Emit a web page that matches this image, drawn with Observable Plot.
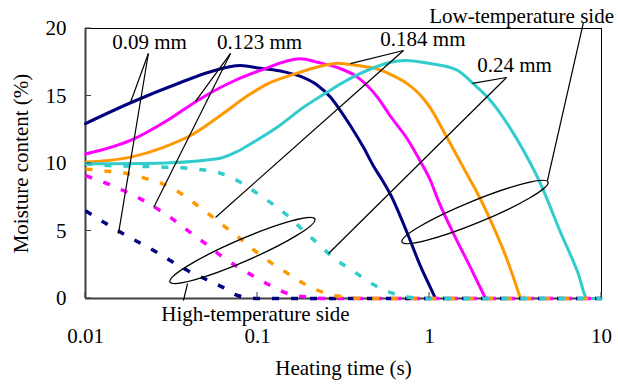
<!DOCTYPE html>
<html><head><meta charset="utf-8">
<script src="https://cdn.jsdelivr.net/npm/d3@7"></script>
<script src="https://cdn.jsdelivr.net/npm/@observablehq/plot@0.6"></script>
<style>body{margin:0;background:#fff}</style>
</head><body><div id="chart"></div>
<script>
// Series (particle sizes) and colours
const seriesNames = ["0.09 mm", "0.123 mm", "0.184 mm", "0.24 mm"];
const seriesColors = ["#000080", "#ff00ff", "#ff9900", "#33cccc"];

// Low-temperature side (solid lines): heating time (s) and moisture content (%)
const low009T = [0.01, 0.0183, 0.0357, 0.0533, 0.0796, 0.104, 0.142, 0.178, 0.223, 0.266, 0.304, 0.347, 0.413, 0.473, 0.533, 0.593, 0.745, 0.886, 1.013, 1.084];
const low009V = [12.96, 14.5, 16.0, 16.8, 17.26, 17.05, 16.8, 16.45, 15.8, 14.9, 13.9, 12.8, 11.2, 9.8, 8.74, 7.7, 4.8, 2.4, 0.8, 0];
const low0123T = [0.01, 0.019, 0.030, 0.0466, 0.0697, 0.104, 0.178, 0.223, 0.292, 0.381, 0.499, 0.593, 0.745, 0.886, 1.013, 1.113, 1.379, 1.73, 2.117];
const low0123V = [10.7, 11.8, 13.2, 14.8, 16.0, 16.9, 17.76, 17.5, 17.1, 16.4, 14.9, 13.5, 11.8, 10.15, 8.74, 7.4, 4.8, 2.3, 0];
const low0184T = [0.01, 0.0183, 0.0284, 0.0408, 0.0609, 0.0911, 0.1143, 0.162, 0.242, 0.292, 0.381, 0.499, 0.593, 0.745, 0.923, 1.013, 1.206, 1.455, 1.73, 1.90, 2.355, 2.84, 3.38];
const low0184V = [10.1, 10.47, 11.2, 12.07, 13.56, 15.16, 15.9, 16.6, 17.26, 17.43, 17.26, 17.0, 16.6, 15.9, 14.8, 14.1, 12.4, 10.5, 8.74, 7.8, 5.3, 2.8, 0];
const low024T = [0.01, 0.0229, 0.0585, 0.0765, 0.0911, 0.1307, 0.1851, 0.255, 0.347, 0.454, 0.593, 0.725, 1.013, 1.455, 1.80, 2.26, 2.84, 3.52, 4.42, 5.78, 7.25, 8.29, 10];
const low024V = [9.98, 10.0, 10.35, 10.9, 11.45, 12.7, 14.17, 15.3, 16.3, 17.0, 17.5, 17.63, 17.4, 16.9, 15.9, 14.67, 12.94, 10.96, 8.5, 4.9, 2.0, 0, 0];

// High-temperature side (dashed lines)
const high009T = [0.01, 0.016, 0.0249, 0.0392, 0.0626, 0.0775, 0.1, 10];
const high009V = [6.5, 4.9, 3.56, 2.07, 0.84, 0.2, 0, 0];
const high0123T = [0.01, 0.0134, 0.0166, 0.0209, 0.0262, 0.032, 0.0392, 0.0485, 0.0593, 0.0745, 0.0935, 0.119, 0.151, 0.195, 0.25, 10];
const high0123V = [9.1, 8.5, 8.0, 7.38, 6.64, 5.9, 5.04, 4.17, 3.3, 2.44, 1.7, 0.96, 0.35, 0.1, 0, 0];
const high0184T = [0.01, 0.0134, 0.0171, 0.0217, 0.028, 0.0357, 0.0436, 0.0533, 0.0651, 0.0796, 0.0973, 0.1223, 0.1535, 0.195, 0.255, 0.325, 0.413, 10];
const high0184V = [9.6, 9.43, 9.28, 8.94, 8.5, 7.8, 7.0, 6.15, 5.28, 4.42, 3.5, 2.57, 1.78, 0.96, 0.35, 0.1, 0, 0];
const high024T = [0.01, 0.0134, 0.0223, 0.0284, 0.0366, 0.0479, 0.0609, 0.0775, 0.0973, 0.1223, 0.1494, 0.1826, 0.223, 0.277, 0.357, 0.454, 0.585, 0.755, 0.974, 10];
const high024V = [9.98, 9.85, 9.78, 9.73, 9.68, 9.53, 9.28, 8.69, 7.87, 7.0, 6.15, 5.09, 4.1, 3.0, 2.07, 1.16, 0.47, 0.1, 0, 0];

// Axis ticks
const xTicks = [0.01, 0.1, 1, 10];
const xTickLabels = ["0.01", "0.1", "1", "10"];
const yTicks = [0, 5, 10, 15, 20];

// Annotation labels (data coordinates)
const labelTexts = ["0.09 mm", "0.123 mm", "0.184 mm", "0.24 mm", "Low-temperature side", "High-temperature side"];
const labelT = [0.02355, 0.1027, 0.916, 3.12, 3.43, 0.0973];
const labelV = [19.0, 19.0, 19.22, 17.3, 20.9, -1.19];

// Leader lines (data coordinates)
const leaderT1 = [0.0232, 0.0232, 0.0697, 0.0697, 0.706, 0.706, 2.805, 2.805, 7.85, 0.0392];
const leaderV1 = [18.15, 18.15, 18.15, 18.15, 18.37, 18.37, 16.37, 16.37, 20.44, 1.11];
const leaderT2 = [0.01826, 0.01555, 0.0436, 0.0249, 0.347, 0.057, 1.778, 0.259, 4.85, 0.0371];
const leaderV2 = [14.52, 4.81, 14.6, 6.74, 17.4, 6.0, 15.93, 3.33, 8.74, -0.15];

// Ellipses marking each side (tips of the long axis, data coordinates)
const ellipseT1 = [0.697, 0.0312];
const ellipseV1 = [4.15, 1.19];
const ellipseT2 = [4.92, 0.217];
const ellipseV2 = [8.59, 5.85];

// Build tables
function rows(name, T, V) { return T.map((t, i) => ({series: name, t, v: V[i]})); }
const lowRows = [
  ...rows(seriesNames[0], low009T, low009V),
  ...rows(seriesNames[1], low0123T, low0123V),
  ...rows(seriesNames[2], low0184T, low0184V),
  ...rows(seriesNames[3], low024T, low024V)
];
const highRows = [
  ...rows(seriesNames[0], high009T, high009V),
  ...rows(seriesNames[1], high0123T, high0123V),
  ...rows(seriesNames[2], high0184T, high0184V),
  ...rows(seriesNames[3], high024T, high024V)
];
const labels = labelTexts.map((s, i) => ({label: s, t: labelT[i], v: labelV[i]}));
const leaders = leaderT1.map((t, i) => ({t1: t, v1: leaderV1[i], t2: leaderT2[i], v2: leaderV2[i]}));
const ellipses = ellipseT1.map((t, i) => ({t1: t, v1: ellipseV1[i], t2: ellipseT2[i], v2: ellipseV2[i]}));

function inwardTicks(index, {x, y}) {
  const g = d3.create("svg:g").attr("stroke", "#404040").attr("stroke-width", 1);
  for (const t of xTicks) {
    const px = x(t);
    g.append("line").attr("x1", px).attr("x2", px).attr("y1", y(yTicks[0])).attr("y2", y(yTicks[0]) - 6);
  }
  for (const v of yTicks) {
    const py = y(v);
    g.append("line").attr("x1", x(xTicks[0])).attr("x2", x(xTicks[0]) + 6).attr("y1", py).attr("y2", py);
  }
  return g.node();
}

function ellipseMark(index, {x, y}) {
  const g = d3.create("svg:g").attr("fill", "none").attr("stroke", "black").attr("stroke-width", 1.3);
  for (const e of ellipses) {
    const x1 = x(e.t1), y1 = y(e.v1), x2 = x(e.t2), y2 = y(e.v2);
    const cx = (x1 + x2) / 2, cy = (y1 + y2) / 2;
    const rx = Math.hypot(x2 - x1, y2 - y1) / 2;
    const ang = Math.atan2(y2 - y1, x2 - x1) * 180 / Math.PI;
    g.append("ellipse").attr("cx", cx).attr("cy", cy).attr("rx", rx).attr("ry", 11)
      .attr("transform", `rotate(${ang} ${cx} ${cy})`);
  }
  return g.node();
}

const chart = Plot.plot({
  width: 618,
  height: 387,
  marginLeft: 85,
  marginRight: 17,
  marginTop: 28,
  marginBottom: 89,
  x: {type: "log", domain: [0.01, 10]},
  y: {domain: [0, 20]},
  color: {domain: seriesNames, range: seriesColors},
  style: {fontFamily: "'Liberation Serif', 'Times New Roman', serif", fontSize: "21px", background: "white", color: "black", overflow: "visible"},
  marks: [
    Plot.frame({stroke: "black", strokeWidth: 1}),
    Plot.ruleX([xTicks[0]], {stroke: "#404040", strokeWidth: 2}),
    Plot.ruleY([yTicks[0]], {stroke: "#404040", strokeWidth: 2}),
    Plot.line(lowRows, {x: "t", y: "v", z: "series", stroke: "series", strokeWidth: 3, curve: "monotone-x"}),
    Plot.line(highRows, {x: "t", y: "v", z: "series", stroke: "series", strokeWidth: 3.5, strokeDasharray: "7,12", strokeLinecap: "butt", curve: "monotone-x"}),
    Plot.axisX(xTicks, {tickSize: 0, tickPadding: 30, tickFormat: d => xTickLabels[xTicks.indexOf(d)], label: null}),
    Plot.axisY(yTicks, {tickSize: 0, tickPadding: 19, label: null}),
    inwardTicks,
    Plot.link(leaders, {x1: "t1", y1: "v1", x2: "t2", y2: "v2", stroke: "black", strokeWidth: 1.2}),
    ellipseMark,
    Plot.text(labels, {x: "t", y: "v", text: "label", fill: "black"}),
    Plot.text(["Heating time (s)"], {frameAnchor: "bottom", dy: 76, fill: "black"}),
    Plot.text(["Moisture content (%)"], {frameAnchor: "left", textAnchor: "middle", rotate: -90, dx: -64, fill: "black"})
  ]
});
document.getElementById("chart").appendChild(chart);
</script>
</body></html>
